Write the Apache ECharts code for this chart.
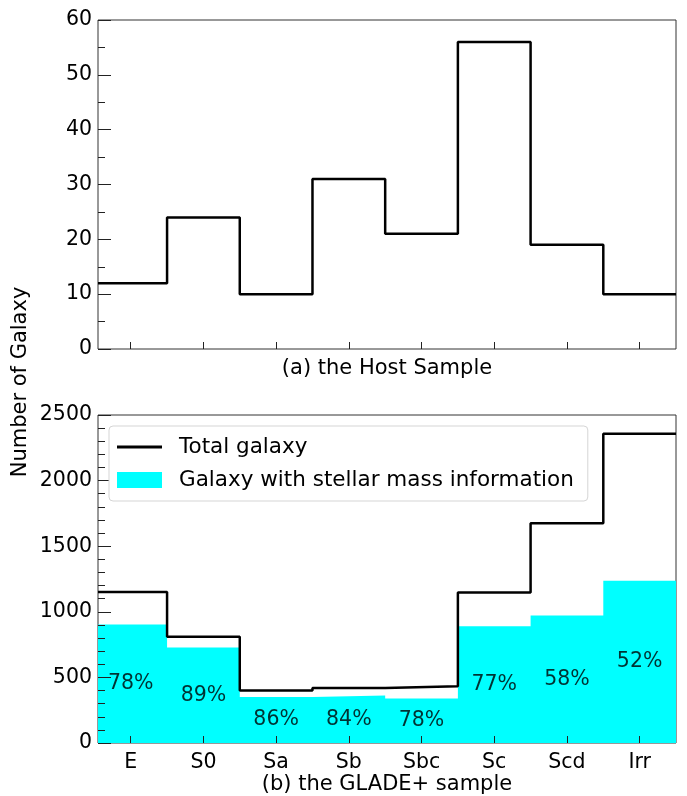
<!DOCTYPE html>
<html><head><meta charset="utf-8">
<script src="https://cdn.jsdelivr.net/npm/echarts@6/dist/echarts.min.js"></script>
<style>html,body{margin:0;padding:0;background:#fff}#c{width:687px;height:796px}</style>
</head><body><div id="c"></div>
<script>
const categories = ['E','S0','Sa','Sb','Sbc','Sc','Scd','Irr'];
const hostCounts = [12,24,10,31,21,56,19,10];
const gladeTotal = [1150,809,400,420,432,1147,1674,2357];
const gladeStellar = [903,728,351,362,339,890,972,1236];
const percentLabels = ['78%','89%','86%','84%','78%','77%','58%','52%'];
const topYTicks = {min:0, max:60, interval:10};
const botYTicks = {min:0, max:2500, interval:500};
const xRange = {min:-0.45, max:7.5};

function steps(vals){
  const pts=[];
  vals.forEach((v,i)=>{
    pts.push([Math.max(i-0.5, xRange.min),v]);
    pts.push([Math.min(i+0.5, xRange.max),v]);
  });
  return pts;
}
const FONT = 'DejaVu Sans';
const catIdx = categories.map((c,i)=>i);

function xAxis(gi, showLabels, name){
  return {
    type:'value', gridIndex:gi, min:xRange.min, max:xRange.max, z:20,
    axisLine:{show:false, onZero:false},
    splitLine:{show:false},
    axisTick:{show:true, inside:true, length:7, customValues:catIdx, lineStyle:{color:'#222',width:1}},
    axisLabel:{show:showLabels, customValues:catIdx, margin:9, fontFamily:FONT, fontSize:20.5, color:'#000',
      formatter:(v)=>categories[Math.round(v)]||''},
    name:name, nameLocation:'middle', nameGap: showLabels?28:9,
    nameTextStyle:{fontFamily:FONT, fontSize:21, color:'#000'}
  };
}
function yAxis(gi, t, minorSplit){
  return {
    type:'value', gridIndex:gi, min:t.min, max:t.max, interval:t.interval, z:20,
    axisLine:{show:false, onZero:false}, splitLine:{show:false},
    axisTick:{show:true, inside:true, length:13, lineStyle:{color:'#222',width:1}},
    minorTick:{show:true, splitNumber:minorSplit, length:7, lineStyle:{color:'#222',width:1}},
    axisLabel:{margin:6, fontFamily:FONT, fontSize:20.5, color:'#000', formatter:(v)=>String(v)}
  };
}

const chart = echarts.init(document.getElementById('c'), null, {renderer:'canvas'});
chart.setOption({
  animation:false,
  backgroundColor:'#fff',
  grid:[
    {left:98, top:20, width:578, height:329, show:true, borderColor:'#333', borderWidth:1},
    {left:98, top:415, width:578, height:328, show:true, borderColor:'#333', borderWidth:1}
  ],
  xAxis:[ xAxis(0,false,'(a) the Host Sample'), xAxis(1,true,'(b) the GLADE+ sample') ],
  yAxis:[ yAxis(0, topYTicks, 2), yAxis(1, botYTicks, 5) ],
  legend:{
    orient:'vertical', left:109, top:426, z:30,
    padding:[10,14,10,8], itemWidth:45, itemHeight:16, itemGap:11,
    borderColor:'#d5d5d5', borderWidth:1, borderRadius:4, backgroundColor:'#fff',
    textStyle:{fontFamily:FONT, fontSize:21.5, color:'#000', lineHeight:21, padding:[0,0,0,12]},
    data:[
      {name:'Total galaxy', icon:'path://M0,0L45,0L45,3L0,3Z', itemStyle:{color:'#000'}},
      {name:'Galaxy with stellar mass information', icon:'rect', itemStyle:{color:'#00ffff'}}
    ]
  },
  graphic:[{
    type:'text', x:21, y:382, rotation:Math.PI/2,
    style:{text:'Number of Galaxy', font:'21px "DejaVu Sans"', fill:'#000', align:'center', verticalAlign:'middle'}
  }],
  series:[
    {type:'line', xAxisIndex:0, yAxisIndex:0, data:steps(hostCounts), symbol:'none',
     lineStyle:{color:'#000', width:2.5}, itemStyle:{color:'#000'}, z:5},
    {name:'Galaxy with stellar mass information', type:'line', xAxisIndex:1, yAxisIndex:1,
     data:steps(gladeStellar), symbol:'none', color:'#00ffff',
     lineStyle:{width:0, color:'#00ffff'}, areaStyle:{color:'#00ffff', opacity:1}, z:1},
    {name:'Total galaxy', type:'line', xAxisIndex:1, yAxisIndex:1, data:steps(gladeTotal), symbol:'none',
     lineStyle:{color:'#000', width:2.5}, itemStyle:{color:'#000'}, z:5},
    {type:'scatter', xAxisIndex:1, yAxisIndex:1, symbolSize:0, z:6,
     data:catIdx.map(i=>[i, gladeStellar[i]/2]),
     label:{show:true, position:'inside', fontFamily:FONT, fontSize:20.5, color:'#000',
       formatter:(p)=>percentLabels[p.dataIndex]}}
  ]
});
</script></body></html>
